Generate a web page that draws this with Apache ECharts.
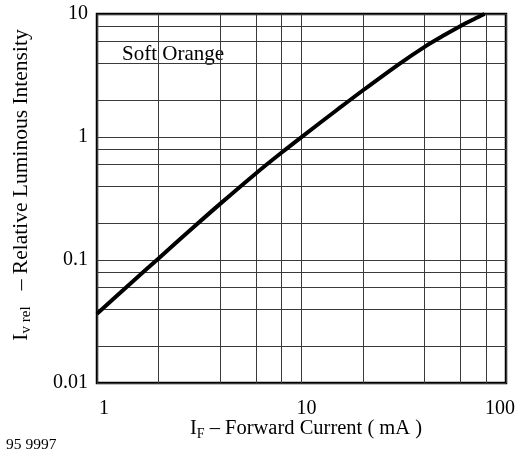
<!DOCTYPE html>
<html>
<head>
<meta charset="utf-8">
<script src="https://cdn.jsdelivr.net/npm/echarts@6/dist/echarts.min.js"></script>
<style>
  html, body { margin: 0; padding: 0; background: #fff; }
  #chart { width: 523px; height: 457px; }
</style>
</head>
<body>
<div id="chart"></div>
<script>
// Relative luminous intensity vs. forward current (log-log)
const currentMA = [1, 1.5, 2, 3, 4, 6, 8, 10, 15, 20, 30, 40, 50, 60, 70, 78.5];
const relIntensity = [0.0366, 0.0672, 0.103, 0.188, 0.286, 0.508, 0.748, 0.999, 1.673, 2.40, 3.92, 5.41, 6.74, 7.99, 9.11, 10];

// Minor grid lines (2, 4, 6, 8 of each decade)
const xGridValues = [2, 4, 6, 8, 20, 40, 60, 80];
const yGridValues = [0.02, 0.04, 0.06, 0.08, 0.2, 0.4, 0.6, 0.8, 2, 4, 6, 8];

// Decade tick labels
const xTickLabels = ['1', '10', '100'];
const yTickLabels = ['0.01', '0.1', '1', '10'];

const SERIF = '"Liberation Serif", "DejaVu Serif", serif';
const GRID_COLOR = '#3a3a3a';

const chart = echarts.init(document.getElementById('chart'), null, { renderer: 'canvas' });

function decadeIndex(v, minExp) {
  return Math.round(Math.log10(v)) - minExp;
}

const gridLineData = xGridValues.map(v => ({ xAxis: v }))
  .concat(yGridValues.map(v => ({ yAxis: v })));

chart.setOption({
  animation: false,
  backgroundColor: '#fff',
  grid: {
    left: 97, right: 17, top: 14, bottom: 74,
    show: true, borderColor: '#000', borderWidth: 2.5, backgroundColor: 'transparent'
  },
  xAxis: {
    type: 'log', logBase: 10, min: 1, max: 100,
    axisLine: { show: false },
    axisTick: { show: false },
    splitLine: { show: true, lineStyle: { color: GRID_COLOR, width: 1 } },
    minorTick: { show: false },
    axisLabel: {
      color: '#000', fontFamily: SERIF, fontSize: 20, margin: 16,
      formatter: v => {
        const i = decadeIndex(v, 0);
        return '{d' + i + '|' + xTickLabels[i] + '}';
      },
      rich: {
        d0: { fontFamily: SERIF, fontSize: 20, color: '#000', padding: [0, 0, 0, 14] },
        d1: { fontFamily: SERIF, fontSize: 20, color: '#000', padding: [0, 0, 0, 10] },
        d2: { fontFamily: SERIF, fontSize: 20, color: '#000', padding: [0, 12, 10, 0] }
      }
    }
  },
  yAxis: {
    type: 'log', logBase: 10, min: 0.01, max: 10,
    axisLine: { show: false },
    axisTick: { show: false },
    splitLine: { show: true, lineStyle: { color: GRID_COLOR, width: 1 } },
    minorTick: { show: false },
    axisLabel: {
      color: '#000', fontFamily: SERIF, fontSize: 20, margin: 9,
      formatter: v => yTickLabels[decadeIndex(v, -2)]
    }
  },
  series: [
    {
      name: 'grid',
      type: 'line',
      data: [],
      z: 1,
      silent: true,
      markLine: {
        silent: true,
        symbol: 'none',
        label: { show: false },
        lineStyle: { color: GRID_COLOR, width: 1, type: 'solid' },
        emphasis: { disabled: true },
        data: gridLineData
      }
    },
    {
      name: 'Soft Orange',
      type: 'line',
      z: 5,
      smooth: 0.3,
      showSymbol: false,
      symbol: 'none',
      lineStyle: { color: '#000', width: 4 },
      data: currentMA.map((x, i) => [x, relIntensity[i]])
    }
  ],
  graphic: [
    {
      type: 'group', z: 100,
      children: [
        { type: 'rect', shape: { x: 107, y: 33, width: 132, height: 41 }, style: { fill: '#fff' } },
        {
          type: 'text',
          style: { text: 'Soft Orange', x: 173, y: 54, align: 'center', verticalAlign: 'middle',
                   fontFamily: SERIF, fontSize: 21, fill: '#000' }
        }
      ]
    },
    {
      type: 'text', z: 100,
      style: {
        text: '{m|I}{s|F}{m| – Forward Current ( mA )}',
        x: 306, y: 429, align: 'center', verticalAlign: 'middle',
        rich: {
          m: { fontFamily: SERIF, fontSize: 20.5, fill: '#000', lineHeight: 24 },
          s: { fontFamily: SERIF, fontSize: 14, fill: '#000', padding: [10, 0, 0, 0] }
        }
      }
    },
    {
      type: 'text', z: 100,
      x: 21, y: 185, rotation: Math.PI / 2,
      style: {
        text: '{m|I}{s|v rel}{m|   – Relative Luminous Intensity}',
        x: 0, y: 0, align: 'center', verticalAlign: 'middle',
        rich: {
          m: { fontFamily: SERIF, fontSize: 21.5, fill: '#000', lineHeight: 26 },
          s: { fontFamily: SERIF, fontSize: 15, fill: '#000', padding: [10, 0, 0, 0] }
        }
      }
    },
    {
      type: 'text', z: 100,
      style: { text: '95 9997', x: 6, y: 445, verticalAlign: 'middle',
               fontFamily: SERIF, fontSize: 15.5, fill: '#000' }
    }
  ]
});
</script>
</body>
</html>
